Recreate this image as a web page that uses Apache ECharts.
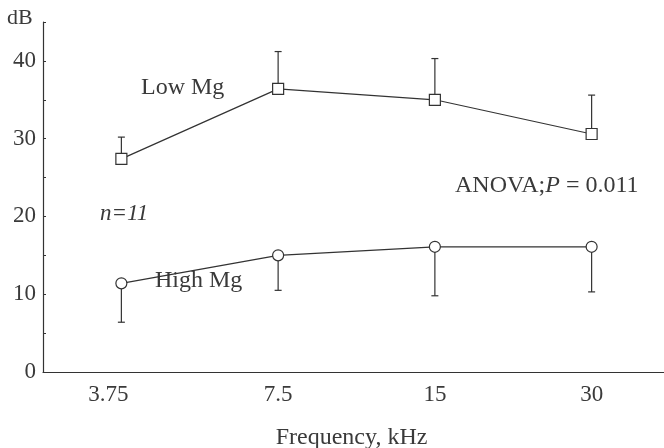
<!DOCTYPE html>
<html>
<head>
<meta charset="utf-8">
<script src="https://cdn.jsdelivr.net/npm/echarts@6/dist/echarts.min.js"></script>
<style>
  html, body { margin: 0; padding: 0; background: #fff; }
  #chart { width: 664px; height: 448px; }
</style>
</head>
<body>
<div id="chart"></div>
<script>
// Hearing threshold by stimulus frequency
const categories = ['3.75', '7.5', '15', '30'];
const lowMg = [27.4, 36.4, 35.0, 30.6];
const lowMgUpper = [30.2, 41.2, 40.3, 35.6];
const highMg = [11.4, 15.0, 16.1, 16.1];
const highMgLower = [6.4, 10.5, 9.8, 10.3];
const yTicks = [0, 10, 20, 30, 40];

const FONT = '"Liberation Serif", "DejaVu Serif", serif';
const INK = '#333';
const TEXT = '#3a3a3a';

// one vertical whisker with a short cap per point
function whisker(params, api) {
  const c = api.coord([api.value(0), api.value(1)]);
  const e = api.coord([api.value(0), api.value(2)]);
  const half = 3.5;
  return {
    type: 'group',
    children: [
      { type: 'line', shape: { x1: c[0], y1: c[1], x2: e[0], y2: e[1] },
        style: { stroke: INK, lineWidth: 1.2 } },
      { type: 'line', shape: { x1: e[0] - half, y1: e[1], x2: e[0] + half, y2: e[1] },
        style: { stroke: INK, lineWidth: 1.2 } }
    ]
  };
}

const chart = echarts.init(document.getElementById('chart'), null, { renderer: 'canvas' });
chart.setOption({
  animation: false,
  backgroundColor: '#fff',
  grid: { left: 43, top: 22, width: 627, bottom: 76, containLabel: false, outerBoundsMode: 'none' },
  xAxis: {
    type: 'category',
    data: categories,
    boundaryGap: true,
    axisLine: { lineStyle: { color: INK, width: 1.2 } },
    axisTick: { show: false },
    axisLabel: {
      margin: 11,
      fontFamily: FONT, fontSize: 23, color: TEXT,
      formatter: (v, i) => i === 0 ? '{a|' + v + '}' : v,
      rich: { a: { fontFamily: FONT, fontSize: 23, color: TEXT, padding: [0, 26, 0, 0] } }
    },
    name: 'Frequency, kHz',
    nameLocation: 'middle',
    nameGap: 54,
    nameTextStyle: { fontFamily: FONT, fontSize: 24, color: TEXT, padding: [0, 10, 0, 0] }
  },
  yAxis: {
    type: 'value',
    min: 0, max: 45, interval: 5,
    axisLine: { show: true, lineStyle: { color: INK, width: 1.2 } },
    axisTick: { show: true, inside: true, length: 3, lineStyle: { color: INK } },
    splitLine: { show: false },
    axisLabel: {
      margin: 7,
      fontFamily: FONT, fontSize: 23, color: TEXT,
      formatter: v => yTicks.includes(v) ? String(v) : ''
    }
  },
  series: [
    {
      type: 'custom',
      renderItem: whisker,
      data: categories.map((c, i) => [i, lowMg[i], lowMgUpper[i]]),
      z: 1
    },
    {
      type: 'custom',
      renderItem: whisker,
      data: categories.map((c, i) => [i, highMg[i], highMgLower[i]]),
      z: 1
    },
    {
      name: 'Low Mg',
      type: 'line',
      data: lowMg,
      symbol: 'rect',
      symbolSize: 11,
      showAllSymbol: true,
      lineStyle: { color: INK, width: 1.2 },
      itemStyle: { color: '#fff', borderColor: INK, borderWidth: 1.2 },
      z: 3
    },
    {
      name: 'High Mg',
      type: 'line',
      data: highMg,
      symbol: 'circle',
      symbolSize: 11,
      showAllSymbol: true,
      lineStyle: { color: INK, width: 1.2 },
      itemStyle: { color: '#fff', borderColor: INK, borderWidth: 1.2 },
      z: 3
    }
  ],
  graphic: [
    { type: 'text', left: 7, top: 7,
      style: { text: 'dB', fontFamily: FONT, fontSize: 22, fill: TEXT } },
    { type: 'text', left: 141, top: 76,
      style: { text: 'Low Mg', fontFamily: FONT, fontSize: 24, fill: TEXT } },
    { type: 'text', left: 155, top: 269,
      style: { text: 'High Mg', fontFamily: FONT, fontSize: 24, fill: TEXT } },
    { type: 'text', left: 100, top: 202,
      style: { text: 'n=11', fontFamily: FONT, fontSize: 23, fontStyle: 'italic', fill: TEXT } },
    { type: 'text', left: 455, top: 174,
      style: {
        text: '{r|ANOVA;}{i|P}{r| = 0.011}',
        rich: {
          r: { fontFamily: FONT, fontSize: 24, fill: TEXT },
          i: { fontFamily: FONT, fontSize: 24, fontStyle: 'italic', fill: TEXT }
        }
      } }
  ]
});
</script>
</body>
</html>
